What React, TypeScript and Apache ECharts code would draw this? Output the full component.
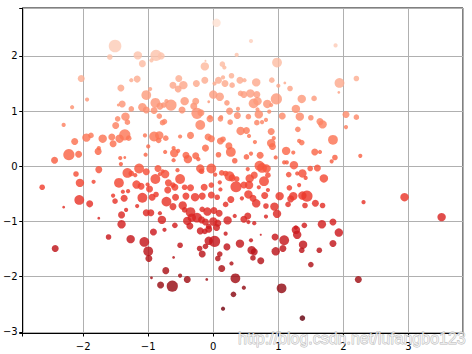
import React, { useEffect, useRef } from "react";
import * as echarts from "echarts";

// Scatter points (x, y, marker diameter in px)
const xValues = [
  -1.51, -1.59, -2.03, -1.26, -1.42, -1.94, -1.40, -1.46, -2.17, -1.26, -1.35, -1.47,
  0.05, -1.16, -0.88, -0.80, 0.36, -1.09, -0.95, -0.13, 0.14, 0.17, -0.12, -1.17,
  -0.53, -0.62, -0.46, -0.54, -0.26, -0.13, 0.02, 0.08, 0.15, 0.18, 0.28, 0.29,
  0.41, 0.48, -0.97, -1.03, -0.89, -0.82, -0.76, -0.72, -0.65, -0.44, -0.30, -0.27,
  0.00, 0.10, -0.07, 0.21, 0.42, 0.47, 0.38, 0.25, -1.09, -1.03, -0.48, -0.25,
  -0.19, -0.05, 0.12, 0.37, -0.91, -0.83, 0.58, 1.88, 0.98, 2.20, 0.66, 0.90,
  1.00, 1.10, 1.18, 1.94, 1.93, 0.57, 0.67, 0.62, 0.68, 0.83, 0.89, 0.97,
  1.36, 1.55, 1.27, 0.68, 0.86, 0.70, 1.06, 1.33, 1.50, 2.04, 2.20, -2.30,
  -2.13, -2.22, -2.44, -2.07, -1.95, -1.88, -1.70, -1.77, -1.76, -1.56, -1.54, -1.44,
  -1.36, -1.30, -1.50, -1.32, -1.43, -1.36, -1.42, -1.76, -2.11, -1.32, -1.26, -2.05,
  -1.84, -1.45, -2.63, -1.39, -1.31, -1.54, -1.37, -1.51, -2.06, -1.90, -2.30, -1.34,
  -1.41, -1.76, -1.41, -0.78, -0.75, -0.91, -0.83, -0.84, -0.73, -1.05, -0.51, -0.35,
  -0.20, -0.05, -0.08, -0.03, 0.11, 0.26, 0.11, 0.15, 0.42, 0.24, 0.27, -0.12,
  0.08, 0.33, -0.60, -0.61, -0.54, -0.42, -0.39, -0.27, -0.61, -0.23, -0.74, -1.00,
  -1.04, -1.14, -1.03, -1.20, -0.85, -0.74, -0.82, -0.78, -0.89, -0.51, -0.55, -0.20,
  -0.18, -0.03, 0.03, 0.13, 0.25, 0.19, 0.29, 0.36, 0.35, 0.47, -1.18, -1.11,
  -1.01, -0.98, -0.69, -0.70, -0.62, -0.59, -0.44, -0.35, -0.14, -0.03, 0.10, 0.11,
  -1.09, -0.94, -0.88, -0.72, -0.58, -0.42, -0.28, -0.17, -0.03, 0.06, 0.27, 0.44,
  -1.17, -1.03, -0.96, -0.82, -0.62, -0.47, -0.44, -0.35, -0.17, -0.09, 0.01, 0.09,
  0.19, 0.33, -0.79, -0.40, -0.33, -0.25, -0.18, -0.12, 0.00, 0.07, 0.22, 0.47,
  -0.59, -0.07, 0.67, 0.75, 0.54, 0.81, 1.68, 1.64, 2.04, 0.51, 0.55, 1.30,
  0.89, 0.89, 0.91, 0.93, 0.64, 1.32, 1.36, 1.84, 1.12, 1.23, 1.56, 1.64,
  0.58, 0.72, 0.51, 0.96, 1.87, 1.82, 1.09, 1.13, 1.24, 0.71, 0.75, 0.82,
  0.53, 1.49, 1.60, 1.16, 1.29, 1.37, 1.42, 1.70, 0.63, 0.56, 0.84, 0.78,
  0.55, 0.70, 0.84, 1.17, 1.32, 0.54, 0.61, 0.66, 0.79, 0.81, 1.02, 1.19,
  1.23, 1.15, 1.37, 1.44, 1.41, 1.57, 1.68, 0.94, 0.98, 0.81, 0.53, 0.54,
  0.63, 1.40, 1.27, 1.67, 1.84, 2.26, 2.31, 2.94, 3.51, -1.61, -1.27, -2.43,
  -0.92, -0.75, -0.36, -0.20, -0.13, -0.07, 0.05, 0.19, -1.06, -1.00, -0.99, -0.51,
  -0.61, -0.07, 0.02, -0.12, -0.21, -0.17, 0.10, 0.07, 0.21, 0.41, 0.28, -0.73,
  0.13, -0.95, -0.51, -0.40, -0.10, -0.81, -0.63, 0.34, 0.47, 0.31, 0.15, 1.27,
  1.29, 1.93, 0.58, 0.73, 0.95, 1.09, 1.38, 1.36, 1.84, 0.59, 0.63, 0.96,
  1.07, 1.63, 0.61, 0.73, 1.50, 1.05, 1.37, 2.23,
];

const yValues = [
  2.18, 1.98, 1.59, 1.56, 1.42, 1.21, 1.13, 1.11, 1.07, 1.04, 0.90, 0.86,
  2.60, 2.01, 2.01, 2.00, 2.02, 1.86, 1.92, 1.81, 1.85, 1.79, 1.91, 1.58,
  1.59, 1.47, 1.47, 1.40, 1.50, 1.56, 1.50, 1.56, 1.61, 1.50, 1.64, 1.47,
  1.56, 1.56, 1.40, 1.29, 1.15, 1.09, 1.11, 1.18, 1.11, 1.18, 1.09, 1.18,
  1.30, 1.26, 1.17, 1.15, 1.32, 1.30, 1.04, 1.00, 1.07, 1.02, 1.02, 0.96,
  0.97, 0.89, 0.89, 0.92, 1.01, 0.91, 2.27, 2.19, 1.88, 1.59, 1.52, 1.56,
  1.46, 1.51, 1.41, 1.51, 1.34, 1.32, 1.30, 1.14, 1.18, 1.13, 1.11, 1.22,
  1.22, 1.23, 1.04, 1.03, 0.99, 0.94, 0.91, 0.90, 0.88, 0.94, 0.89, 0.75,
  0.45, 0.21, 0.11, 0.22, 0.52, 0.56, 0.50, 0.27, 0.33, 0.53, 0.41, 0.50,
  0.57, 0.51, 0.74, 0.80, 0.15, 0.16, 0.04, -0.06, -0.14, -0.12, -0.13, -0.30,
  -0.28, -0.30, -0.38, -0.46, -0.45, -0.53, -0.58, -0.63, -0.61, -0.68, -0.74, -0.79,
  -0.88, -0.94, -1.05, 0.79, 0.81, 0.54, 0.56, 0.47, 0.51, 0.56, 0.54, 0.56,
  0.75, 0.86, 0.53, 0.50, 0.86, 0.80, 0.46, 0.49, 0.64, 0.37, 0.26, 0.33,
  0.21, 0.10, 0.24, 0.33, 0.28, 0.20, 0.13, 0.19, 0.11, 0.13, 0.26, 0.36,
  0.21, -0.04, -0.10, -0.16, -0.04, -0.14, -0.14, -0.09, -0.23, -0.23, -0.07, -0.04,
  -0.09, -0.04, -0.15, -0.12, -0.18, -0.13, -0.21, -0.23, -0.37, -0.34, -0.33, -0.36,
  -0.33, -0.41, -0.30, -0.43, -0.34, -0.38, -0.38, -0.39, -0.38, -0.34, -0.29, -0.42,
  -0.57, -0.56, -0.51, -0.64, -0.56, -0.54, -0.56, -0.54, -0.52, -0.56, -0.60, -0.58,
  -0.72, -0.84, -0.84, -0.85, -0.73, -0.71, -0.79, -0.83, -0.78, -0.82, -0.80, -0.85,
  -0.69, -0.90, -0.97, -0.99, -0.93, -0.93, -0.97, -1.01, -1.00, -1.03, -0.98, -0.96,
  -1.07, -1.09, 0.79, 0.80, 0.90, 0.84, 0.76, 0.81, 0.71, 0.65, 0.55, 0.67,
  0.63, 0.42, 0.36, 0.51, 0.44, 0.46, 0.43, 0.48, 0.28, 0.25, 0.26, 0.26,
  0.23, 0.20, 0.17, 0.16, 0.16, 0.09, 0.07, 0.07, 0.02, 0.01, -0.03, -0.04,
  -0.05, -0.04, -0.03, -0.15, -0.13, -0.13, -0.21, -0.22, -0.16, -0.22, -0.16, -0.27,
  -0.34, -0.38, -0.43, -0.39, -0.34, -0.51, -0.58, -0.67, -0.53, -0.72, -0.54, -0.59,
  -0.54, -0.69, -0.53, -0.54, -0.71, -0.67, -0.71, -0.73, -0.86, -0.91, -0.90, -1.01,
  -1.03, -1.07, -1.11, -1.05, -1.01, 0.19, -0.65, -0.56, -0.92, -1.28, -1.32, -1.49,
  -1.19, -1.15, -1.08, -1.17, -1.18, -1.14, -1.11, -1.22, -1.37, -1.54, -1.67, -1.43,
  -1.65, -1.35, -1.36, -1.45, -1.49, -1.59, -1.59, -1.67, -1.46, -1.40, -1.76, -1.89,
  -1.85, -2.02, -1.98, -2.05, -2.05, -2.15, -2.17, -2.03, -2.20, -2.32, -2.58, -1.15,
  -1.24, -1.20, -1.34, -1.24, -1.28, -1.34, -1.42, -1.52, -1.40, -1.52, -1.55, -1.54,
  -1.49, -1.52, -1.66, -1.71, -1.78, -2.21, -2.75, -2.05,
];

const sizes = [
  9, 4, 5, 3, 5, 3, 5, 2, 3, 4, 6, 4,
  6, 6, 8, 5, 3, 5, 3, 6, 4, 3, 1.5, 5,
  5, 5, 6, 5, 5, 5, 3, 5, 3, 5, 4, 4,
  5, 3, 3, 7, 7, 5, 4, 3, 8, 6, 5, 5,
  6, 6, 2, 4, 4, 5, 3, 5, 6, 5, 5, 8,
  5, 3, 3, 5, 5, 4, 3, 3, 7, 4, 6, 4,
  3, 2, 4, 7, 2, 6, 5, 7, 6, 6, 3, 8,
  6, 4, 6, 3, 3, 6, 5, 6, 4, 5, 4, 3,
  5, 8, 5, 5, 6, 4, 6, 5, 3, 5, 5, 6,
  8, 4, 5, 4, 3, 2, 3, 5, 4, 7, 4, 6,
  3, 7, 4, 3, 3, 3, 5, 4, 7, 5, 2, 3,
  5, 2, 6, 4, 4, 7, 6, 4, 4, 3, 3, 5,
  7, 5, 5, 5, 4, 4, 5, 4, 6, 5, 7, 5,
  4, 4, 6, 3, 3, 5, 6, 5, 3, 3, 3, 3,
  3, 7, 5, 3, 5, 6, 3, 3, 7, 7, 3, 6,
  4, 7, 3, 4, 7, 4, 5, 4, 8, 5, 6, 5,
  3, 5, 5, 5, 4, 5, 4, 5, 5, 4, 3, 3,
  7, 5, 4, 7, 5, 5, 6, 5, 5, 4, 5, 3,
  3, 5, 5, 3, 5, 6, 4, 7, 4, 6, 5, 5,
  4, 3, 6, 6, 6, 7, 5, 5, 6, 5, 6, 5,
  4, 4, 4, 3, 4, 3, 6, 5, 3, 5, 3, 4,
  5, 6, 5, 3, 3, 3, 4, 7, 6, 3, 5, 3,
  3, 5, 4, 3, 4, 3, 3, 3, 6, 7, 7, 6,
  3, 4, 5, 4, 3, 6, 3, 6, 5, 6, 4, 7,
  6, 3, 3, 4, 3, 6, 5, 6, 5, 4, 6, 5,
  6, 4, 6, 8, 4, 5, 4, 6, 6, 3, 5, 3,
  3, 4, 3, 6, 5, 3, 3, 6, 6, 4, 6, 5,
  5, 3, 5, 5, 4, 5, 5, 3, 7, 7, 5, 4,
  2, 6, 8, 4, 4, 5, 4, 4, 5, 6, 3, 5,
  5, 2, 3, 5, 2, 5, 8, 7, 3, 4, 3, 6,
  6, 6, 3, 1.5, 5, 7, 6, 4, 5, 6, 5, 6,
  5, 4, 4, 5, 4, 7, 4, 5,
];

const xTickLabels = [-2, -1, 0, 1, 2, 3];
const yTickLabels = [-3, -2, -1, 0, 1, 2];
const watermark = "http://blog.csdn.net/lufangbo123";

// matplotlib "Reds" colormap (lightest step dropped), reversed so low y is dark
const redsReversed = [
  "#67000d", "#a50f15", "#cb181d", "#ef3b2c", "#fb6a4a",
  "#fc9272", "#fcbba1", "#fee0d2",
];

const fmtTick = (allowed: number[]) => (v: number) => {
  const r = Math.round(v);
  if (Math.abs(v - r) > 1e-6 || !allowed.includes(r)) return "";
  return String(r).replace("-", "\u2212");
};

export default function App() {
  const ref = useRef<HTMLDivElement>(null);

  useEffect(() => {
    document.body.style.margin = "0";
    if (!ref.current) return;
    const chart = echarts.init(ref.current, null, { renderer: "svg" });
    const n = Math.min(xValues.length, yValues.length, sizes.length);
    const data: number[][] = [];
    for (let i = 0; i < n; i++) data.push([xValues[i], yValues[i], sizes[i]]);
    const yMin = Math.min(...yValues);
    const yMax = Math.max(...yValues);

    chart.setOption({
      animation: false,
      backgroundColor: "#ffffff",
      grid: {
        left: 17,
        top: 8,
        width: 446,
        height: 325,
        show: true,
        borderColor: "#000000",
        borderWidth: 1,
        backgroundColor: "transparent",
      },
      xAxis: {
        type: "value",
        min: -2.929,
        max: 3.839,
        splitNumber: 7,
        axisLine: { show: true, onZero: false, lineStyle: { color: "#000", width: 1 } },
        axisTick: { show: true, inside: false, length: 3.5, lineStyle: { color: "#000" } },
        axisLabel: {
          color: "#000",
          fontSize: 10,
          fontFamily: "DejaVu Sans",
          margin: 8,
          formatter: fmtTick(xTickLabels),
        },
        splitLine: { show: true, lineStyle: { color: "#b0b0b0", width: 1 } },
      },
      yAxis: {
        type: "value",
        min: -3.02,
        max: 2.868,
        splitNumber: 6,
        axisLine: { show: true, onZero: false, lineStyle: { color: "#000", width: 1 } },
        axisTick: { show: true, inside: false, length: 3.5, lineStyle: { color: "#000" } },
        axisLabel: {
          color: "#000",
          fontSize: 10,
          fontFamily: "DejaVu Sans",
          margin: 5,
          formatter: fmtTick(yTickLabels),
        },
        splitLine: { show: true, lineStyle: { color: "#b0b0b0", width: 1 } },
      },
      visualMap: {
        type: "continuous",
        show: false,
        dimension: 1,
        min: yMin,
        max: yMax,
        inRange: { color: redsReversed },
      },
      series: [
        {
          type: "scatter",
          data,
          symbol: "circle",
          symbolSize: (v: number[]) => v[2] * 1.4,
          itemStyle: { opacity: 0.82 },
        },
      ],
      graphic: [
        {
          type: "text",
          x: 238,
          y: 338,
          z: 100,
          style: {
            text: watermark,
            fontFamily: "Liberation Sans",
            fontSize: 16,
            verticalAlign: "middle",
            fill: "rgba(255,255,255,0.7)",
            stroke: "rgba(150,150,150,0.7)",
            lineWidth: 0.9,
          },
        },
      ],
    });
    return () => chart.dispose();
  }, []);

  return <div ref={ref} style={{ width: 472, height: 354 }} />;
}
